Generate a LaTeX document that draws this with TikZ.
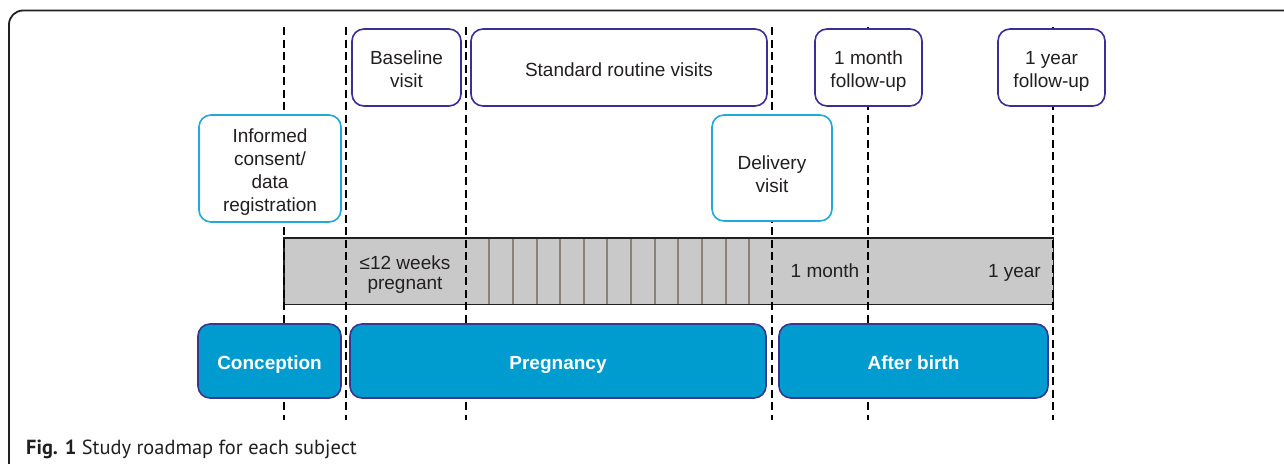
\documentclass[tikz,border=0pt]{standalone}
\usepackage{fontspec}
\setmainfont{Liberation Sans}
\newfontfamily\capfont{PT Sans}
\definecolor{violetb}{HTML}{3B2E98}
\definecolor{cyanb}{HTML}{22A9DC}
\definecolor{phasefill}{HTML}{009CCF}
\definecolor{phaseedge}{HTML}{3A3590}
\definecolor{barfill}{HTML}{C9C9C9}
\definecolor{tickc}{HTML}{8A8179}
\definecolor{inkc}{HTML}{231F20}
\tikzset{
  visitbox/.style={draw=violetb, line width=1.6pt, fill=white, rounded corners=12pt, align=center, inner sep=0pt, text=inkc, font=\fontsize{19}{23}\selectfont, text depth=0pt},
  consentbox/.style={visitbox, draw=cyanb},
  phasebox/.style={draw=phaseedge, line width=1.6pt, fill=phasefill, rounded corners=12pt, inner sep=0pt, text=white, font=\fontsize{19}{23}\selectfont\bfseries, minimum height=74pt, text height=17pt, text depth=0pt},
  guide/.style={draw=black, line width=1.7pt, dash pattern=on 8pt off 4.5pt},
  bartext/.style={align=center, inner sep=0pt, text=inkc, font=\fontsize{19}{20.5}\selectfont},
}
\begin{document}
\begin{tikzpicture}[x=1pt, y=-1pt]
\clip (0,0) rectangle (1284,463);
\fill[white] (0,0) rectangle (1284,463);
% frame
\draw[line width=1.8pt, draw=inkc, rounded corners=14pt] (9,480) -- (9,10.5) -- (1300,10.5);
% gray bar
\node[fill=barfill, draw=none, minimum width=769pt, minimum height=66pt, inner sep=0pt, anchor=north west] (bar) at (284,238) {};
\foreach \tx in {489,513,537,560,584,607,631,655,678,702,726,749} {
  \draw[tickc, line width=2pt] (\tx,238) -- (\tx,304);
}
\draw[inkc, line width=1.6pt] (bar.north west) rectangle (bar.south east);
% guide lines
\foreach \n/\x in {g1/284, g2/346, g3/466, g4/772, g5/868, g6/1053} {
  \coordinate (\n t) at (\x,27);
  \coordinate (\n b) at (\x,420);
  \draw[guide] (\n t) -- (\n b);
}
% bar texts
\node[bartext, anchor=base] (weeks) at (405,289.5) {≤12 weeks\\pregnant};
\node[bartext, anchor=base] (onemonth) at (825,277.7) {1 month};
\node[bartext, anchor=base east] (oneyear) at (1041,277.7) {1 year};
% visit boxes
\node[visitbox, text height=39.6pt, minimum width=109pt, minimum height=77pt] (baseline) at (406.5,67.5) {Baseline\\visit};
\node[visitbox, text height=17pt, minimum width=296pt, minimum height=77pt] (standard) at (619,67.5) {Standard routine visits};
\node[visitbox, text height=39.6pt, minimum width=107pt, minimum height=77pt] (month) at (868.5,67.5) {1 month\\follow-up};
\node[visitbox, text height=39.6pt, minimum width=107pt, minimum height=77pt] (year) at (1051.5,67.5) {1 year\\follow-up};
\node[consentbox, text height=86.4pt, minimum width=142pt, minimum height=107pt] (consent) at (270,168.5) {Informed\\consent/\\data\\registration};
\node[consentbox, text height=49pt, minimum width=120pt, minimum height=106pt] (delivery) at (772,168) {Delivery\\visit};
% phase boxes
\node[phasebox, minimum width=143pt] (conception) at (269.5,361) {Conception};
\node[phasebox, minimum width=416pt] (pregnancy) at (558,361) {Pregnancy};
\node[phasebox, minimum width=269pt] (after) at (913.5,361) {After birth};
% caption
\node[anchor=base west, inner sep=0pt, text=inkc, font=\capfont\fontsize{20.4}{24}\selectfont] (caption) at (26,454) {\textbf{Fig. 1} Study roadmap for each subject};
\end{tikzpicture}
\end{document}
